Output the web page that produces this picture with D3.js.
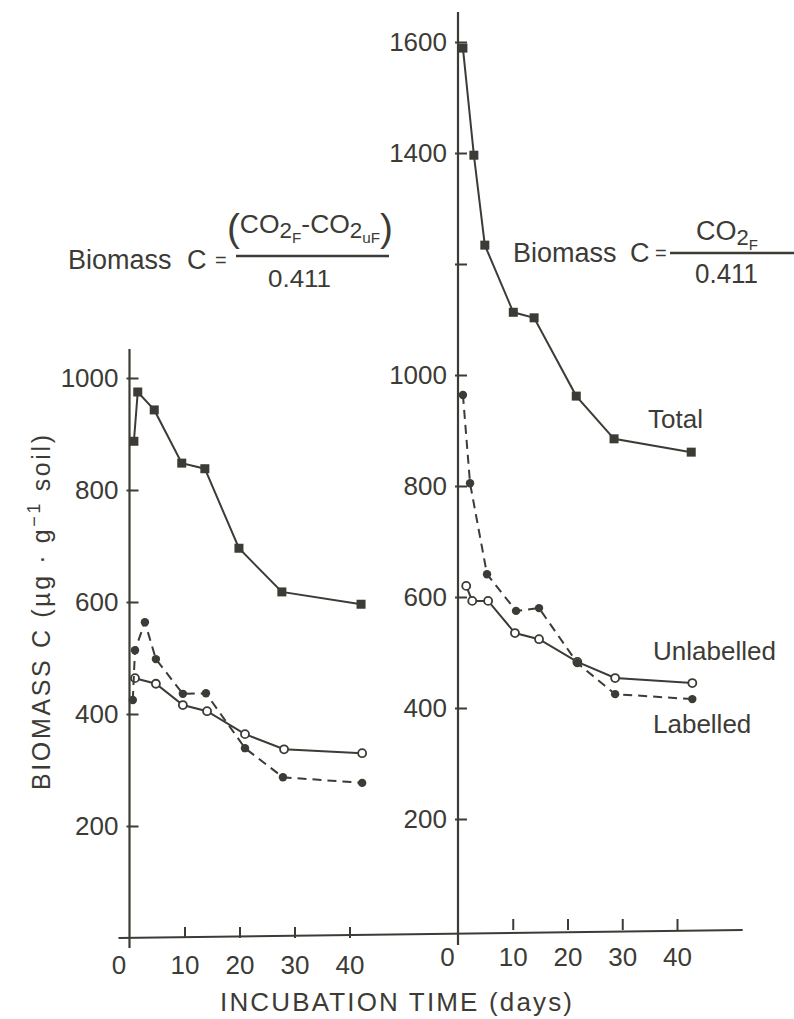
<!DOCTYPE html>
<html><head><meta charset="utf-8">
<script src="https://cdn.jsdelivr.net/npm/d3@7"></script>
<style>
html,body{margin:0;padding:0;background:#fff;}
svg{display:block;}
text{font-family:"Liberation Sans",Arial,sans-serif;fill:#3c3b35;}
</style></head>
<body>
<svg id="c" width="794" height="1019"></svg>
<script>
// ---- data ----
const xTicks = [0, 10, 20, 30, 40];
const leftYTicks = [200, 400, 600, 800, 1000];
const rightYTicks = [200, 400, 600, 800, 1000, 1200, 1400, 1600];
const rightYLabels = ["200", "400", "600", "800", "1000", "", "1400", "1600"];

// Left panel: Biomass C = (CO2F - CO2uF)/0.411
const leftTotalDays = [0.8, 1.5, 4.5, 9.5, 13.7, 19.9, 27.7, 42.1];
const leftTotal     = [887, 975, 943, 848, 838, 696, 618, 596];
const leftLabDays   = [0.6, 1.0, 2.8, 4.8, 9.7, 13.9, 21.0, 27.9, 42.3];
const leftLab       = [425, 514, 564, 498, 436, 437, 339, 287, 277];
const leftUnlabDays = [1.0, 4.8, 9.7, 14.1, 21.0, 28.1, 42.3];
const leftUnlab     = [464, 454, 416, 405, 364, 337, 330];

// Right panel: Biomass C = CO2F/0.411
const rightTotalDays = [0.9, 2.9, 4.9, 10.1, 13.9, 21.6, 28.5, 42.6];
const rightTotal     = [1589, 1396, 1234, 1113, 1103, 962, 885, 861];
const rightLabDays   = [0.9, 2.2, 5.3, 10.6, 14.8, 21.8, 28.7, 42.8];
const rightLab       = [964, 805, 641, 575, 580, 481, 425, 416];
const rightUnlabDays = [1.5, 2.6, 5.5, 10.4, 14.8, 21.8, 28.7, 42.8];
const rightUnlab     = [620, 593, 593, 535, 524, 483, 454, 445];

const ink = "#3c3b35";
const svg = d3.select("#c");

const xL = d3.scaleLinear().domain([0, 40]).range([129.5, 349.5]);
const yL = d3.scaleLinear().domain([0, 1000]).range([938, 378]);
const xR = d3.scaleLinear().domain([0, 40]).range([458, 677]);
const yR = d3.scaleLinear().domain([0, 1600]).range([930, 42]);

// baseline (one continuous line across both panels)
svg.append("line")
  .attr("x1", xL(-2)).attr("y1", yL(0))
  .attr("x2", xR(52)).attr("y2", yR(0))
  .attr("stroke", ink).attr("stroke-width", 2.2);

// y axis lines
svg.append("line").attr("x1", xL(0)).attr("x2", xL(0))
  .attr("y1", yL(1052)).attr("y2", yL(-18))
  .attr("stroke", ink).attr("stroke-width", 2.2);
svg.append("line").attr("x1", xR(0)).attr("x2", xR(0))
  .attr("y1", yR(1654)).attr("y2", yR(-27))
  .attr("stroke", ink).attr("stroke-width", 2.2);

function styleAxis(g) {
  g.select(".domain").remove();
  g.selectAll("line").attr("stroke", ink).attr("stroke-width", 2);
  g.selectAll("text").attr("font-family", "Liberation Sans, Arial, sans-serif")
    .attr("font-size", 26).attr("fill", ink);
}

// y axes
svg.append("g").attr("transform", `translate(${xL(0) - 3},0)`)
  .call(d3.axisLeft(yL).tickValues(leftYTicks).tickSize(-12).tickPadding(8).tickFormat(d3.format("d")))
  .call(styleAxis);
svg.append("g").attr("transform", `translate(${xR(0) - 3},0)`)
  .call(d3.axisLeft(yR).tickValues(rightYTicks).tickSize(-12).tickPadding(8)
    .tickFormat((d, i) => rightYLabels[i]))
  .call(styleAxis);

// x axes
function xAxis(xs, y0) {
  const g = svg.append("g").attr("transform", `translate(0,${y0})`)
    .call(d3.axisBottom(xs).tickValues(xTicks).tickSize(-11).tickPadding(18).tickFormat(d3.format("d")))
    .call(styleAxis);
  g.selectAll(".tick").filter(d => d === 0).select("line").remove();
  g.selectAll(".tick").filter(d => d === 0).select("text").attr("x", -11);
}
xAxis(xL, yL(0));
xAxis(xR, yR(0));

// series
function series(xs, ys, days, vals, opts) {
  const pts = days.map((d, i) => [xs(d), ys(vals[i])]);
  svg.append("path").attr("d", d3.line()(pts))
    .attr("fill", "none").attr("stroke", ink).attr("stroke-width", 2)
    .attr("stroke-dasharray", opts.dash || null);
  const g = svg.append("g");
  if (opts.marker === "square") {
    g.selectAll("rect").data(pts).join("rect")
      .attr("x", d => d[0] - 4.5).attr("y", d => d[1] - 4.5)
      .attr("width", 9).attr("height", 9).attr("fill", ink);
  } else if (opts.marker === "dot") {
    g.selectAll("circle").data(pts).join("circle")
      .attr("cx", d => d[0]).attr("cy", d => d[1]).attr("r", 4.2).attr("fill", ink);
  } else {
    g.selectAll("circle").data(pts).join("circle")
      .attr("cx", d => d[0]).attr("cy", d => d[1]).attr("r", 4)
      .attr("fill", "#fff").attr("stroke", ink).attr("stroke-width", 1.8);
  }
}
series(xL, yL, leftTotalDays, leftTotal, {marker: "square"});
series(xL, yL, leftUnlabDays, leftUnlab, {marker: "open"});
series(xL, yL, leftLabDays, leftLab, {marker: "dot", dash: "9,6"});
series(xR, yR, rightTotalDays, rightTotal, {marker: "square"});
series(xR, yR, rightUnlabDays, rightUnlab, {marker: "open"});
series(xR, yR, rightLabDays, rightLab, {marker: "dot", dash: "9,6"});

// series labels
const lab = (x, y, t) => svg.append("text").attr("x", x).attr("y", y)
  .attr("font-size", 26).text(t);
lab(648, 428, "Total");
lab(653, 660, "Unlabelled");
lab(653, 733, "Labelled");

// axis titles
svg.append("text").attr("x", 220).attr("y", 1011).attr("font-size", 26)
  .attr("textLength", 352).attr("lengthAdjust", "spacing")
  .text("INCUBATION  TIME   (days)");

const yt = svg.append("text")
  .attr("transform", "translate(50,790) rotate(-90)")
  .attr("font-size", 25).attr("textLength", 355).attr("lengthAdjust", "spacing");
yt.append("tspan").text("BIOMASS  C  (µg · g");
yt.append("tspan").attr("baseline-shift", "super").attr("font-size", 18).text("−1");
yt.append("tspan").text("  soil)");

// formulas
function sub(t, txt, size, shift) {
  t.append("tspan").attr("font-size", size).attr("dy", shift).text(txt);
}
// left
svg.append("text").attr("x", 68).attr("y", 269).attr("font-size", 27).text("Biomass");
svg.append("text").attr("x", 187).attr("y", 269).attr("font-size", 27).text("C");
svg.append("text").attr("x", 215).attr("y", 267).attr("font-size", 20).text("=");
svg.append("line").attr("x1", 236).attr("x2", 389).attr("y1", 256).attr("y2", 256)
  .attr("stroke", ink).attr("stroke-width", 2.4);
const nl = svg.append("text").attr("x", 227).attr("y", 233).attr("font-size", 26)
  .attr("textLength", 166).attr("lengthAdjust", "spacingAndGlyphs");
nl.append("tspan").attr("font-size", 38).attr("dy", 8).text("(");
nl.append("tspan").attr("font-size", 26).attr("dy", -8).text("CO");
sub(nl, "2", 22, 5);
sub(nl, "F", 15, 5);
nl.append("tspan").attr("font-size", 26).attr("dy", -10).text("-CO");
sub(nl, "2", 22, 5);
sub(nl, "uF", 15, 5);
nl.append("tspan").attr("font-size", 38).attr("dy", -2).text(")");
svg.append("text").attr("x", 268).attr("y", 287).attr("font-size", 24)
  .attr("textLength", 63).attr("lengthAdjust", "spacingAndGlyphs").text("0.411");

// right
svg.append("text").attr("x", 513).attr("y", 262).attr("font-size", 27).text("Biomass");
svg.append("text").attr("x", 630).attr("y", 262).attr("font-size", 27).text("C");
svg.append("text").attr("x", 655).attr("y", 260).attr("font-size", 20).text("=");
svg.append("line").attr("x1", 670).attr("x2", 794).attr("y1", 253).attr("y2", 253)
  .attr("stroke", ink).attr("stroke-width", 2.4);
const nr = svg.append("text").attr("x", 696).attr("y", 240).attr("font-size", 27);
nr.append("tspan").text("CO");
sub(nr, "2", 22, 5);
sub(nr, "F", 15, 5);
svg.append("text").attr("x", 695).attr("y", 283).attr("font-size", 27)
  .attr("textLength", 63).attr("lengthAdjust", "spacingAndGlyphs").text("0.411");
</script>
</body></html>
